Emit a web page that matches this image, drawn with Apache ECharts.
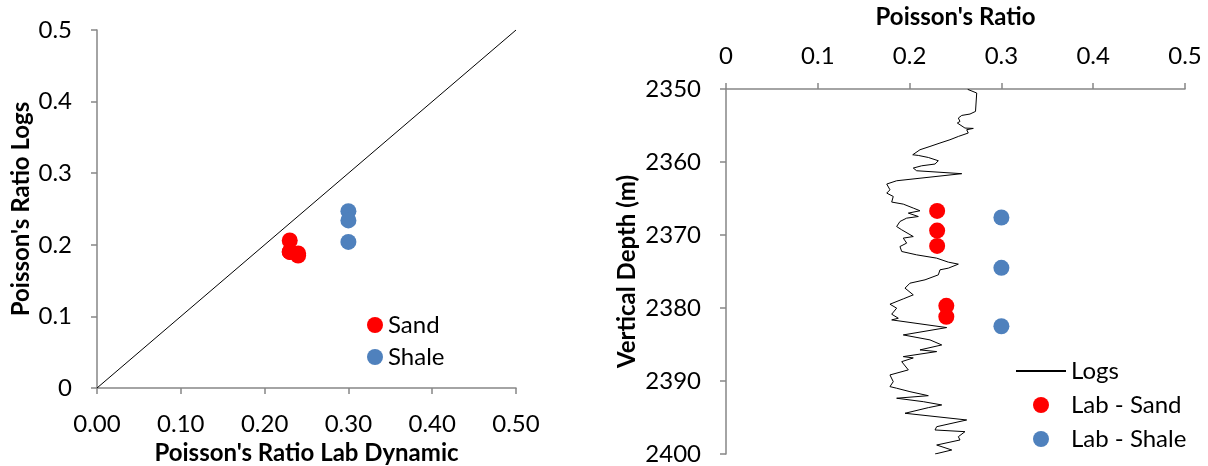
<!DOCTYPE html>
<html>
<head>
<meta charset="utf-8">
<script src="https://cdn.jsdelivr.net/npm/echarts@6/dist/echarts.min.js"></script>
<style>
	html, body { margin: 0; padding: 0; background: #fff; }
	#main { width: 1208px; height: 466px; }
</style>
</head>
<body>
<div id="main"></div>
<script>
/*左图: 实验室 vs 测井*/
var sandLab = [0.23, 0.23, 0.23, 0.24, 0.24];
var sandLogs = [0.206, 0.190, 0.190, 0.188, 0.185];
var shaleLab = [0.30, 0.30, 0.30];
var shaleLogs = [0.247, 0.234, 0.204];
var oneToOne = [[0, 0], [0.5, 0.5]];

/*右图: 深度剖面*/
var sandDepth = [2366.7, 2369.4, 2371.5, 2379.7, 2381.2];
var sandRatio = [0.23, 0.23, 0.23, 0.24, 0.24];
var shaleDepth = [2367.6, 2374.5, 2382.5];
var shaleRatio = [0.30, 0.30, 0.30];
var logDepth = [2350.05, 2350.55, 2353.07, 2353.43, 2353.62, 2353.98, 2354.44, 2354.66, 2355.35, 2355.4,
	2355.58, 2356.03, 2356.5, 2356.95, 2357.4, 2357.87, 2358.32, 2359.01, 2359.1, 2359.38,
	2359.83, 2360.28, 2360.52, 2360.83, 2361.2, 2361.6, 2362.57, 2363.02, 2363.81, 2364.26,
	2364.72, 2365.49, 2365.77, 2366.31, 2366.68, 2367.0, 2367.47, 2367.69, 2368.15, 2368.84,
	2369.29, 2370.21, 2370.43, 2371.11, 2371.58, 2372.26, 2372.72, 2373.17, 2373.72, 2373.99,
	2374.54, 2374.77, 2375.46, 2376.14, 2376.6, 2377.28, 2378.2, 2378.75, 2379.48, 2380.02,
	2380.85, 2381.4, 2381.63, 2382.68, 2383.69, 2384.37, 2385.06, 2385.74, 2385.97, 2386.66,
	2386.84, 2387.35, 2388.48, 2389.17, 2390.09, 2390.77, 2390.99, 2391.46, 2392.01, 2392.36,
	2392.83, 2393.28, 2393.65, 2394.42, 2395.34, 2396.26, 2396.71, 2396.94, 2397.63, 2398.08,
	2398.77, 2399.45, 2400.0];
var logRatio = [0.2633, 0.2731, 0.2718, 0.2658, 0.2568, 0.2531, 0.2549, 0.2520, 0.2603, 0.2694,
	0.2622, 0.2639, 0.2531, 0.2440, 0.2331, 0.2222, 0.2113, 0.2034, 0.2095, 0.2204,
	0.2313, 0.2277, 0.2132, 0.2040, 0.2077, 0.2568, 0.1859, 0.1751, 0.1786, 0.1751,
	0.1822, 0.1805, 0.1931, 0.2040, 0.2113, 0.1986, 0.2095, 0.1968, 0.1895, 0.1859,
	0.1914, 0.2040, 0.1931, 0.1968, 0.1895, 0.1914, 0.2077, 0.2295, 0.2422, 0.2531,
	0.2422, 0.2331, 0.2313, 0.2168, 0.2004, 0.1950, 0.2040, 0.1931, 0.1786, 0.1859,
	0.1805, 0.1877, 0.1805, 0.2404, 0.1931, 0.2222, 0.2350, 0.2113, 0.2295, 0.1931,
	0.2040, 0.1914, 0.1986, 0.1786, 0.1822, 0.1786, 0.1859, 0.2004, 0.2204, 0.1859,
	0.2149, 0.2350, 0.2204, 0.1950, 0.2622, 0.2295, 0.2277, 0.2603, 0.2531, 0.2549,
	0.2295, 0.2459, 0.2277];

function zip(a, b){
	var out = [];
	for (var i = 0; i < a.length; i++) {
		out.push([a[i], b[i]]);
	}
	return out;
}

var FONT = 'Lato';
var axisGray = '#868686';

function valueAxis(extra){
	var base = {
		type : 'value',
		axisLine : { show : true, lineStyle : { color : axisGray, width : 1.5 } },
		axisTick : { show : true, length : 6, lineStyle : { color : axisGray, width : 1.5 } },
		splitLine : { show : false },
		axisLabel : { color : '#000', fontFamily : FONT, fontSize : 24 },
		nameTextStyle : { color : '#000', fontFamily : FONT, fontSize : 24, fontWeight : 'bold' },
		nameLocation : 'middle'
	};
	for (var k in extra) {
		if (typeof extra[k] === 'object' && base[k] && !Array.isArray(extra[k])) {
			for (var j in extra[k]) { base[k][j] = extra[k][j]; }
		} else {
			base[k] = extra[k];
		}
	}
	return base;
}

var chart = echarts.init(document.getElementById('main'));
var option = {
	animation : false,
	textStyle : { fontFamily : FONT },
	grid : [
		{ left : 97, top : 30, width : 419, height : 358, outerBoundsMode : 'none', containLabel : false },
		{ left : 726, top : 89, width : 459, height : 365, outerBoundsMode : 'none', containLabel : false }
	],
	xAxis : [
		valueAxis({
			gridIndex : 0, min : 0, max : 0.5, interval : 0.1,
			name : "Poisson's Ratio Lab Dynamic", nameGap : 52,
			axisLabel : { margin : 24, formatter : function(v){ return v.toFixed(2); } }
		}),
		valueAxis({
			gridIndex : 1, min : 0, max : 0.5, interval : 0.1, position : 'top',
			name : "Poisson's Ratio", nameGap : 60,
			axisLabel : { margin : 21, formatter : function(v){ return String(v); } }
		})
	],
	yAxis : [
		valueAxis({
			gridIndex : 0, min : 0, max : 0.5, interval : 0.1,
			name : "Poisson's Ratio Logs", nameGap : 64,
			axisLabel : { margin : 25, formatter : function(v){ return String(v); } }
		}),
		valueAxis({
			gridIndex : 1, min : 2350, max : 2400, interval : 10, inverse : true,
			name : 'Vertical Depth (m)', nameGap : 87,
			axisLabel : { margin : 25, formatter : function(v){ return String(v); } }
		})
	],
	legend : [
		{
			orient : 'vertical', left : 362, top : 308,
			itemWidth : 16, itemHeight : 16, itemGap : 8,
			textStyle : { color : '#000', fontFamily : FONT, fontSize : 24 },
			data : [ { name : 'Sand', icon : 'circle' }, { name : 'Shale', icon : 'circle' } ]
		},
		{
			orient : 'vertical', left : 1010, top : 354,
			itemWidth : 50, itemHeight : 16, itemGap : 10,
			textStyle : { color : '#000', fontFamily : FONT, fontSize : 24 },
			data : [
				{ name : 'Logs', itemStyle : { opacity : 0 } },
				{ name : 'Lab - Sand', icon : 'circle' },
				{ name : 'Lab - Shale', icon : 'circle' }
			]
		}
	],
	series : [
		{
			name : '1:1', type : 'line', xAxisIndex : 0, yAxisIndex : 0,
			data : oneToOne, showSymbol : false, symbol : 'none',
			lineStyle : { color : '#000', width : 1 }, silent : true
		},
		{
			name : 'Sand', type : 'scatter', xAxisIndex : 0, yAxisIndex : 0,
			data : zip(sandLab, sandLogs), symbolSize : 16,
			itemStyle : { color : '#FF0000', opacity : 1 }
		},
		{
			name : 'Shale', type : 'scatter', xAxisIndex : 0, yAxisIndex : 0,
			data : zip(shaleLab, shaleLogs), symbolSize : 16,
			itemStyle : { color : '#4F81BD', opacity : 1 }
		},
		{
			name : 'Logs', type : 'line', xAxisIndex : 1, yAxisIndex : 1,
			data : zip(logRatio, logDepth), symbol : 'none', showSymbol : false,
			itemStyle : { color : '#000' },
			lineStyle : { color : '#000', width : 1 }
		},
		{
			name : 'Lab - Sand', type : 'scatter', xAxisIndex : 1, yAxisIndex : 1,
			data : zip(sandRatio, sandDepth), symbolSize : 16,
			itemStyle : { color : '#FF0000', opacity : 1 }
		},
		{
			name : 'Lab - Shale', type : 'scatter', xAxisIndex : 1, yAxisIndex : 1,
			data : zip(shaleRatio, shaleDepth), symbolSize : 16,
			itemStyle : { color : '#4F81BD', opacity : 1 }
		}
	]
};
chart.setOption(option);
</script>
</body>
</html>
